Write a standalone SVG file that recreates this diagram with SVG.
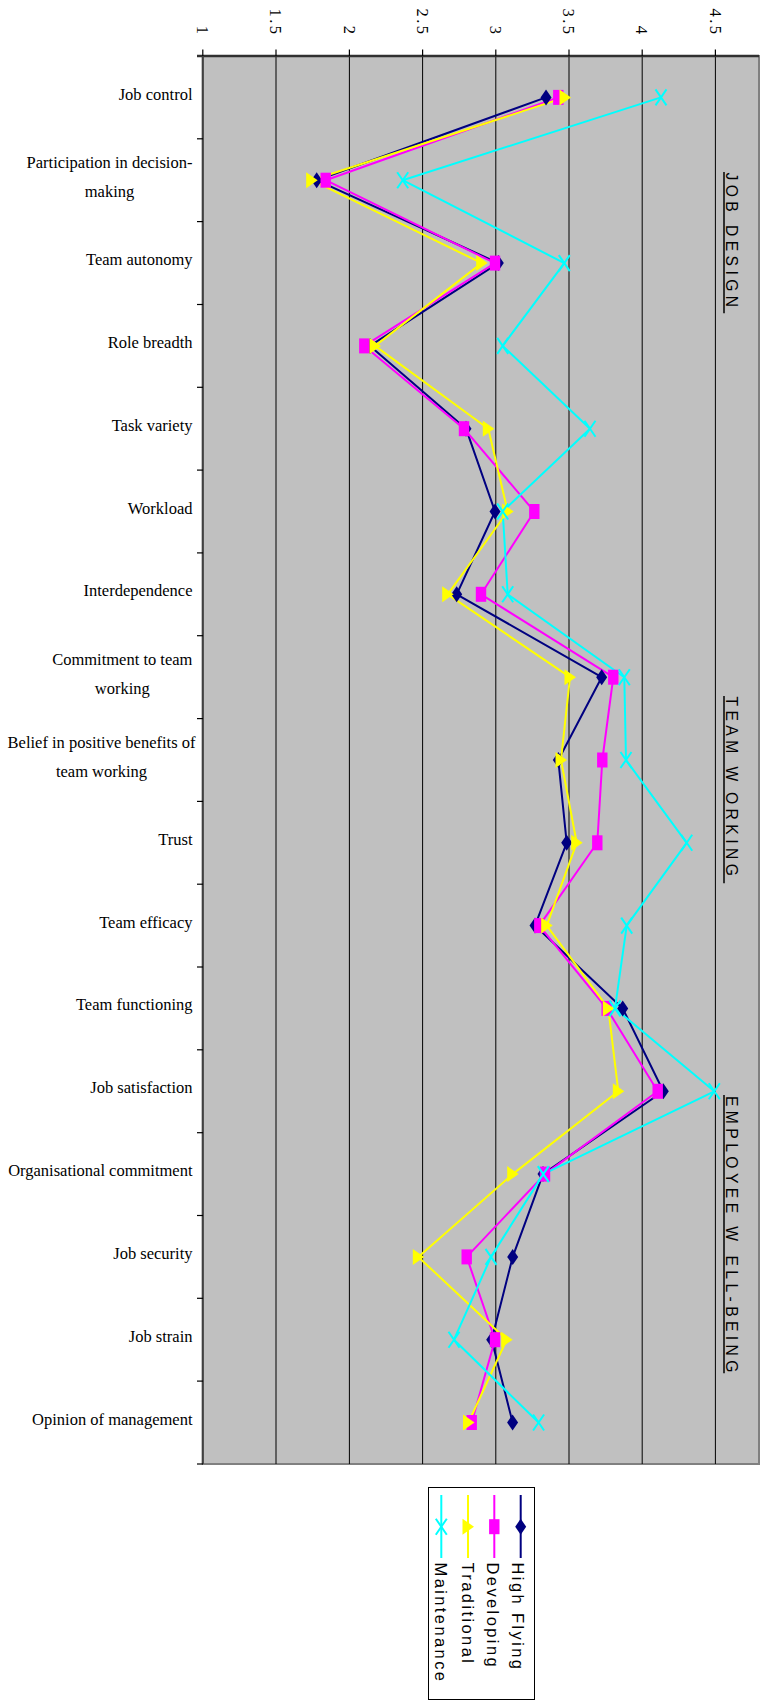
<svg xmlns="http://www.w3.org/2000/svg" xmlns:xlink="http://www.w3.org/1999/xlink" width="763" height="1702" viewBox="0 0 763 1702">
<style>
.cat{font-family:"Liberation Serif","Times New Roman",serif;font-size:16.5px;fill:#000}
.num{font-family:"Liberation Serif","Times New Roman",serif;font-size:16.5px;fill:#000;letter-spacing:2.5px}
.sec{font-family:"Liberation Sans",Arial,sans-serif;font-size:15.7px;fill:#000;letter-spacing:4.4px}
.leg{font-family:"Liberation Sans",Arial,sans-serif;font-size:16.5px;fill:#000;letter-spacing:2.4px}
.grid{stroke:#000;stroke-width:1}
.tick{stroke:#000;stroke-width:1.2}
.ser{fill:none;stroke-width:2;stroke-linejoin:round}
.hf{stroke:#000080}.dev{stroke:#FF00FF}.trad{stroke:#FFFF00}.mnt{stroke:#00FFFF}
.uline{stroke:#000;stroke-width:1.5}
</style>
<defs>
<path id="mDia" d="M0,-8 L5.5,0 L0,8 L-5.5,0 Z" fill="#000080"/>
<rect id="mSq" x="-5.2" y="-7.5" width="10.4" height="15" fill="#FF00FF"/>
<path id="mTri" d="M-5.5,-8 L6,0 L-5.5,8 Z" fill="#FFFF00"/>
<path id="mX" d="M-5.5,-8 L5.5,8 M5.5,-8 L-5.5,8" stroke="#00FFFF" stroke-width="2" fill="none"/>
</defs>
<rect width="763" height="1702" fill="#fff"/>

<g id="plot-area">
<rect x="202.8" y="56" width="556.2" height="1408" fill="#C0C0C0" stroke="#808080" stroke-width="2"/>
<g id="gridlines">
<line class="grid" x1="276" y1="56" x2="276" y2="1464"/>
<line class="grid" x1="349.4" y1="56" x2="349.4" y2="1464"/>
<line class="grid" x1="422.6" y1="56" x2="422.6" y2="1464"/>
<line class="grid" x1="495.8" y1="56" x2="495.8" y2="1464"/>
<line class="grid" x1="569" y1="56" x2="569" y2="1464"/>
<line class="grid" x1="642.2" y1="56" x2="642.2" y2="1464"/>
<line class="grid" x1="715.4" y1="56" x2="715.4" y2="1464"/>
</g>
<line x1="197" y1="56" x2="759" y2="56" stroke="#303030" stroke-width="2.5"/>
<line x1="202.8" y1="56" x2="202.8" y2="1464" stroke="#404040" stroke-width="2"/>
<g id="value-ticks">
<line class="tick" x1="202.8" y1="49.5" x2="202.8" y2="56"/>
<line class="tick" x1="276" y1="49.5" x2="276" y2="56"/>
<line class="tick" x1="349.4" y1="49.5" x2="349.4" y2="56"/>
<line class="tick" x1="422.6" y1="49.5" x2="422.6" y2="56"/>
<line class="tick" x1="495.8" y1="49.5" x2="495.8" y2="56"/>
<line class="tick" x1="569" y1="49.5" x2="569" y2="56"/>
<line class="tick" x1="642.2" y1="49.5" x2="642.2" y2="56"/>
<line class="tick" x1="715.4" y1="49.5" x2="715.4" y2="56"/>
</g>
<g id="category-ticks">
<line class="tick" x1="197" y1="138.8" x2="203" y2="138.8"/>
<line class="tick" x1="197" y1="221.6" x2="203" y2="221.6"/>
<line class="tick" x1="197" y1="304.5" x2="203" y2="304.5"/>
<line class="tick" x1="197" y1="387.3" x2="203" y2="387.3"/>
<line class="tick" x1="197" y1="470.1" x2="203" y2="470.1"/>
<line class="tick" x1="197" y1="552.9" x2="203" y2="552.9"/>
<line class="tick" x1="197" y1="635.7" x2="203" y2="635.7"/>
<line class="tick" x1="197" y1="718.6" x2="203" y2="718.6"/>
<line class="tick" x1="197" y1="801.4" x2="203" y2="801.4"/>
<line class="tick" x1="197" y1="884.2" x2="203" y2="884.2"/>
<line class="tick" x1="197" y1="967" x2="203" y2="967"/>
<line class="tick" x1="197" y1="1049.8" x2="203" y2="1049.8"/>
<line class="tick" x1="197" y1="1132.7" x2="203" y2="1132.7"/>
<line class="tick" x1="197" y1="1215.5" x2="203" y2="1215.5"/>
<line class="tick" x1="197" y1="1298.3" x2="203" y2="1298.3"/>
<line class="tick" x1="197" y1="1381.1" x2="203" y2="1381.1"/>
<line class="tick" x1="197" y1="1464" x2="203" y2="1464"/>
</g>
</g>

<g id="value-axis-labels">
<text class="num" text-anchor="end" transform="translate(197,36.5) rotate(90)">1</text>
<text class="num" text-anchor="end" transform="translate(270.2,36.5) rotate(90)">1.5</text>
<text class="num" text-anchor="end" transform="translate(343.6,36.5) rotate(90)">2</text>
<text class="num" text-anchor="end" transform="translate(416.8,36.5) rotate(90)">2.5</text>
<text class="num" text-anchor="end" transform="translate(490,36.5) rotate(90)">3</text>
<text class="num" text-anchor="end" transform="translate(563.2,36.5) rotate(90)">3.5</text>
<text class="num" text-anchor="end" transform="translate(636.4,36.5) rotate(90)">4</text>
<text class="num" text-anchor="end" transform="translate(709.6,36.5) rotate(90)">4.5</text>
</g>

<g id="category-labels">
<g id="cat-job-control"><text class="cat" x="192.5" y="99.5" text-anchor="end">Job control</text></g>
<g id="cat-participation"><text class="cat" x="109.5" y="168.2" text-anchor="middle">Participation in decision-</text><text class="cat" x="109.5" y="197.2" text-anchor="middle">making</text></g>
<g id="cat-team-autonomy"><text class="cat" x="192.5" y="265.1" text-anchor="end">Team autonomy</text></g>
<g id="cat-role-breadth"><text class="cat" x="192.5" y="347.9" text-anchor="end">Role breadth</text></g>
<g id="cat-task-variety"><text class="cat" x="192.5" y="430.7" text-anchor="end">Task variety</text></g>
<g id="cat-workload"><text class="cat" x="192.5" y="513.5" text-anchor="end">Workload</text></g>
<g id="cat-interdependence"><text class="cat" x="192.5" y="596.3" text-anchor="end">Interdependence</text></g>
<g id="cat-commitment"><text class="cat" x="122.3" y="665.2" text-anchor="middle">Commitment to team</text><text class="cat" x="122.3" y="694.2" text-anchor="middle">working</text></g>
<g id="cat-belief"><text class="cat" x="101.5" y="748" text-anchor="middle">Belief in positive benefits of</text><text class="cat" x="101.5" y="777" text-anchor="middle">team working</text></g>
<g id="cat-trust"><text class="cat" x="192.5" y="844.8" text-anchor="end">Trust</text></g>
<g id="cat-team-efficacy"><text class="cat" x="192.5" y="927.6" text-anchor="end">Team efficacy</text></g>
<g id="cat-team-functioning"><text class="cat" x="192.5" y="1010.4" text-anchor="end">Team functioning</text></g>
<g id="cat-job-satisfaction"><text class="cat" x="192.5" y="1093.3" text-anchor="end">Job satisfaction</text></g>
<g id="cat-org-commitment"><text class="cat" x="192.5" y="1176.1" text-anchor="end">Organisational commitment</text></g>
<g id="cat-job-security"><text class="cat" x="192.5" y="1258.9" text-anchor="end">Job security</text></g>
<g id="cat-job-strain"><text class="cat" x="192.5" y="1341.7" text-anchor="end">Job strain</text></g>
<g id="cat-opinion"><text class="cat" x="192.5" y="1424.5" text-anchor="end">Opinion of management</text></g>
</g>

<g id="section-labels">
<g id="sec-job-design">
<line class="uline" x1="724" y1="172" x2="724" y2="313.3"/>
<text class="sec" transform="translate(725.5,172.5) rotate(90)">JOB DESIGN</text>
</g>
<g id="sec-team-working">
<line class="uline" x1="724" y1="696" x2="724" y2="883.3"/>
<text class="sec" transform="translate(725.5,696.5) rotate(90)">TEAM W<tspan x="95.5">ORKING</tspan></text>
</g>
<g id="sec-wellbeing">
<line class="uline" x1="724" y1="1095" x2="724" y2="1373.3"/>
<text class="sec" transform="translate(725.5,1096) rotate(90)">EMPLOYEE W<tspan x="159.4">ELL-BEING</tspan></text>
</g>
</g>

<g id="connectors">
<polyline class="ser hf" points="546,97.4 316.7,180.2 498.3,263.1 370,345.9 466,428.7 495,511.5 456.7,594.3 601.7,677.2 558.3,760 566.7,842.8 535,925.6 622.7,1008.4 663.3,1091.3 543,1174.1 512.7,1256.9 491.7,1339.7 512.6,1422.5"/>
<polyline class="ser dev" points="558.3,97.4 325.7,180.2 495,263.1 364.3,345.9 464,428.7 534.3,511.5 481,594.3 613.3,677.2 602.3,760 597.3,842.8 539.3,925.6 606.7,1008.4 657.7,1091.3 545,1174.1 466.7,1256.9 495,1339.7 471.7,1422.5"/>
<polyline class="ser trad" points="565,97.4 311.7,180.2 481.7,263.1 375,345.9 488.3,428.7 507.7,511.5 447.7,594.3 570,677.2 561,760 576.7,842.8 546.7,925.6 608.3,1008.4 618.3,1091.3 512.7,1174.1 418.3,1256.9 506.7,1339.7 468.5,1422.5"/>
<polyline class="ser mnt" points="661,97.4 402.7,180.2 564.3,263.1 502.7,345.9 590,428.7 502.7,511.5 507.7,594.3 624.3,677.2 626,760 686.7,842.8 626.7,925.6 615,1008.4 714.3,1091.3 543.3,1174.1 491,1256.9 454,1339.7 538.6,1422.5"/>
</g>

<g id="series-high-flying">
<use href="#mDia" x="546" y="97.4"/><use href="#mDia" x="316.7" y="180.2"/><use href="#mDia" x="498.3" y="263.1"/><use href="#mDia" x="370" y="345.9"/><use href="#mDia" x="466" y="428.7"/><use href="#mDia" x="495" y="511.5"/><use href="#mDia" x="456.7" y="594.3"/><use href="#mDia" x="601.7" y="677.2"/><use href="#mDia" x="558.3" y="760"/><use href="#mDia" x="566.7" y="842.8"/><use href="#mDia" x="535" y="925.6"/><use href="#mDia" x="622.7" y="1008.4"/><use href="#mDia" x="663.3" y="1091.3"/><use href="#mDia" x="543" y="1174.1"/><use href="#mDia" x="512.7" y="1256.9"/><use href="#mDia" x="491.7" y="1339.7"/><use href="#mDia" x="512.6" y="1422.5"/>
</g>
<g id="series-developing">
<use href="#mSq" x="558.3" y="97.4"/><use href="#mSq" x="325.7" y="180.2"/><use href="#mSq" x="495" y="263.1"/><use href="#mSq" x="364.3" y="345.9"/><use href="#mSq" x="464" y="428.7"/><use href="#mSq" x="534.3" y="511.5"/><use href="#mSq" x="481" y="594.3"/><use href="#mSq" x="613.3" y="677.2"/><use href="#mSq" x="602.3" y="760"/><use href="#mSq" x="597.3" y="842.8"/><use href="#mSq" x="539.3" y="925.6"/><use href="#mSq" x="606.7" y="1008.4"/><use href="#mSq" x="657.7" y="1091.3"/><use href="#mSq" x="545" y="1174.1"/><use href="#mSq" x="466.7" y="1256.9"/><use href="#mSq" x="495" y="1339.7"/><use href="#mSq" x="471.7" y="1422.5"/>
</g>
<g id="series-traditional">
<use href="#mTri" x="565" y="97.4"/><use href="#mTri" x="311.7" y="180.2"/><use href="#mTri" x="481.7" y="263.1"/><use href="#mTri" x="375" y="345.9"/><use href="#mTri" x="488.3" y="428.7"/><use href="#mTri" x="507.7" y="511.5"/><use href="#mTri" x="447.7" y="594.3"/><use href="#mTri" x="570" y="677.2"/><use href="#mTri" x="561" y="760"/><use href="#mTri" x="576.7" y="842.8"/><use href="#mTri" x="546.7" y="925.6"/><use href="#mTri" x="608.3" y="1008.4"/><use href="#mTri" x="618.3" y="1091.3"/><use href="#mTri" x="512.7" y="1174.1"/><use href="#mTri" x="418.3" y="1256.9"/><use href="#mTri" x="506.7" y="1339.7"/><use href="#mTri" x="468.5" y="1422.5"/>
</g>
<g id="series-maintenance">
<use href="#mX" x="661" y="97.4"/><use href="#mX" x="402.7" y="180.2"/><use href="#mX" x="564.3" y="263.1"/><use href="#mX" x="502.7" y="345.9"/><use href="#mX" x="590" y="428.7"/><use href="#mX" x="502.7" y="511.5"/><use href="#mX" x="507.7" y="594.3"/><use href="#mX" x="624.3" y="677.2"/><use href="#mX" x="626" y="760"/><use href="#mX" x="686.7" y="842.8"/><use href="#mX" x="626.7" y="925.6"/><use href="#mX" x="615" y="1008.4"/><use href="#mX" x="714.3" y="1091.3"/><use href="#mX" x="543.3" y="1174.1"/><use href="#mX" x="491" y="1256.9"/><use href="#mX" x="454" y="1339.7"/><use href="#mX" x="538.6" y="1422.5"/>
</g>

<g id="legend">
<rect x="428.5" y="1487.5" width="106" height="212" fill="#fff" stroke="#000" stroke-width="1"/>
<g id="legend-high-flying">
<line class="ser hf" x1="520.7" y1="1495" x2="520.7" y2="1558"/>
<use href="#mDia" x="520.7" y="1526.7"/>
<text class="leg" transform="translate(511.5,1562.5) rotate(90)">High Flying</text>
</g>
<g id="legend-developing">
<line class="ser dev" x1="494.3" y1="1495" x2="494.3" y2="1558"/>
<use href="#mSq" x="494.3" y="1526.7"/>
<text class="leg" transform="translate(487,1562.5) rotate(90)">Developing</text>
</g>
<g id="legend-traditional">
<line class="ser trad" x1="468" y1="1495" x2="468" y2="1558"/>
<use href="#mTri" x="468" y="1526.7"/>
<text class="leg" transform="translate(461.5,1562.5) rotate(90)">Traditional</text>
</g>
<g id="legend-maintenance">
<line class="ser mnt" x1="441.3" y1="1495" x2="441.3" y2="1558"/>
<use href="#mX" x="441.3" y="1526.7"/>
<text class="leg" transform="translate(435,1562.5) rotate(90)">Maintenance</text>
</g>
</g>
</svg>
